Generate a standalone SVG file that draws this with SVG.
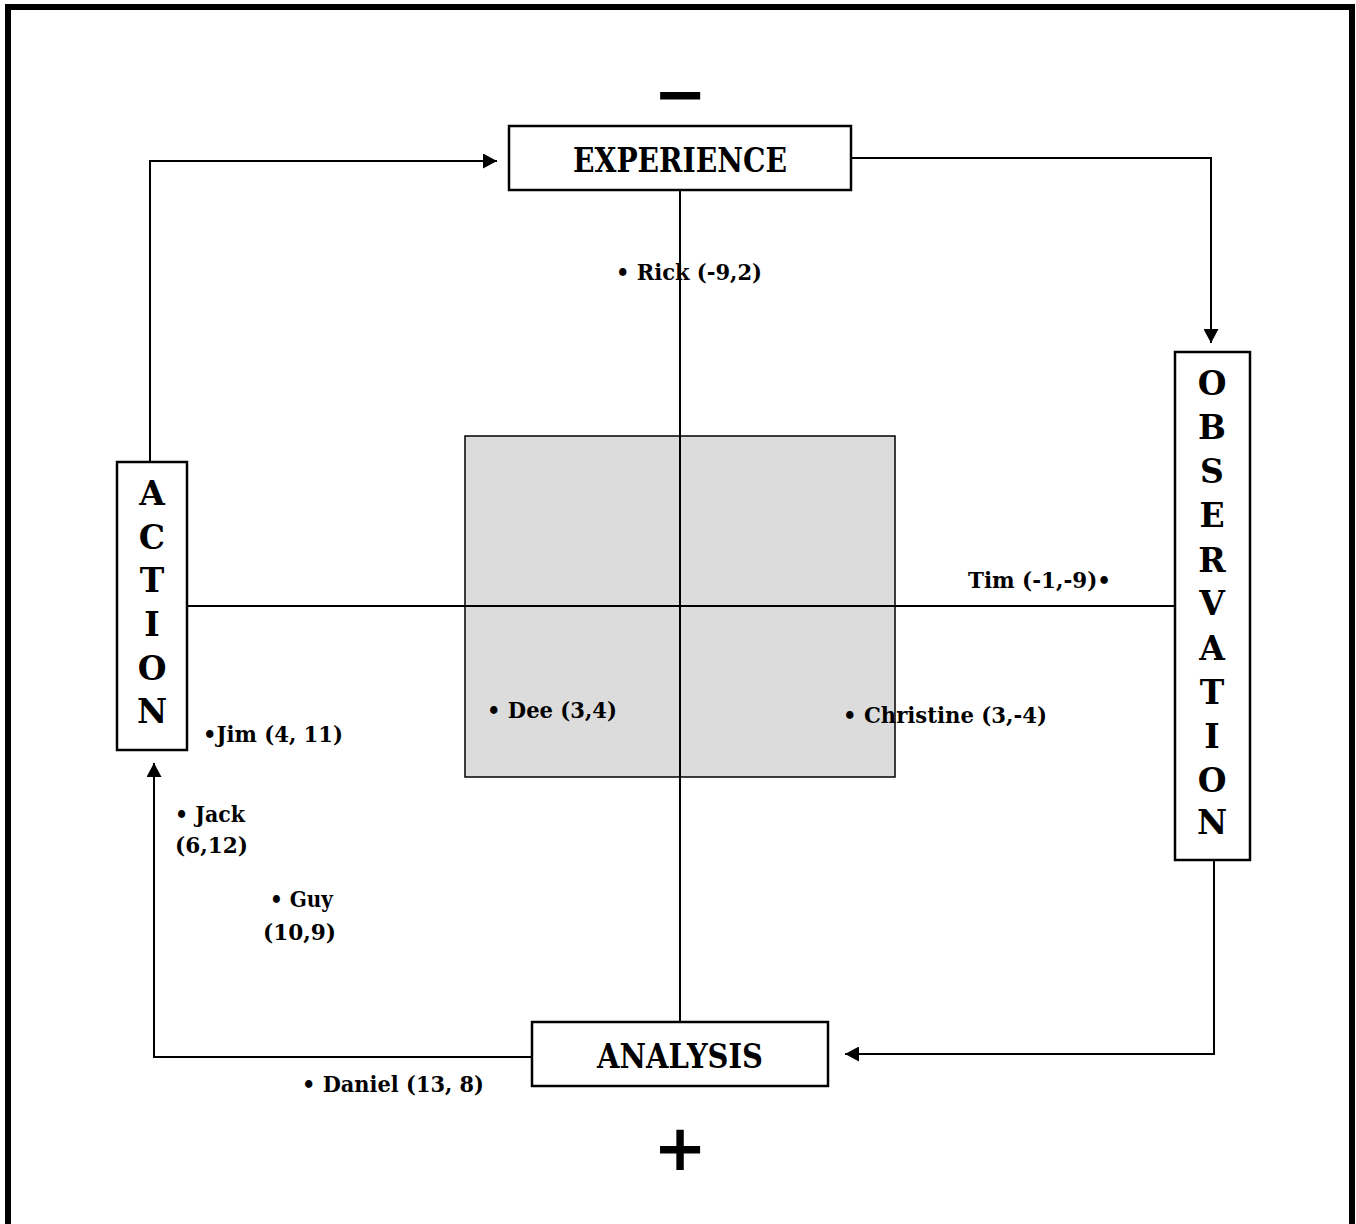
<svg xmlns="http://www.w3.org/2000/svg" width="1356" height="1224" viewBox="0 0 1356 1224">
<style>
.box{fill:#fff;stroke:#000;stroke-width:2.5}
.ln{fill:none;stroke:#000;stroke-width:2}
.big{font-family:"DejaVu Serif","Liberation Serif",serif;font-weight:bold;font-size:33px;text-anchor:middle}
.lt{font-family:"DejaVu Serif","Liberation Serif",serif;font-weight:bold;font-size:33px;text-anchor:middle}
.lbl{font-family:"DejaVu Serif","Liberation Serif",serif;font-weight:bold;font-size:22px}
.sign{font-family:"DejaVu Sans","Liberation Sans",sans-serif;font-weight:bold;font-size:64px;text-anchor:middle}
</style>
<defs>
<marker id="ah" markerWidth="15" markerHeight="15" refX="14" refY="7.5" orient="auto" markerUnits="userSpaceOnUse">
<path d="M0,0 L14,7.5 L0,15 Z" fill="#000"/>
</marker>
</defs>
<rect x="8" y="7" width="1344" height="1240" fill="none" stroke="#000" stroke-width="6"/>
<rect id="quadrant" x="465" y="436" width="430" height="341" fill="#dcdcdc" stroke="#000" stroke-width="1.5"/>
<g id="connectors">
<line class="ln" x1="680" y1="190" x2="680" y2="1022"/>
<line class="ln" x1="187" y1="606" x2="1175" y2="606"/>
<polyline class="ln" points="150,462 150,161 497,161" marker-end="url(#ah)"/>
<polyline class="ln" points="851,158 1211,158 1211,343" marker-end="url(#ah)"/>
<polyline class="ln" points="1214,860 1214,1054 845,1054" marker-end="url(#ah)"/>
<polyline class="ln" points="532,1057 154,1057 154,763" marker-end="url(#ah)"/>
</g>
<g id="experience">
<rect class="box" x="509" y="126" width="342" height="64"/>
<text class="big" x="680" y="172" textLength="214" lengthAdjust="spacingAndGlyphs">EXPERIENCE</text>
</g>
<g id="analysis">
<rect class="box" x="532" y="1022" width="296" height="64"/>
<text class="big" x="680" y="1068" textLength="166" lengthAdjust="spacingAndGlyphs">ANALYSIS</text>
</g>
<g id="action">
<rect class="box" x="117" y="462" width="70" height="288"/>
<text class="lt" x="152" y="505">A</text>
<text class="lt" x="152" y="549">C</text>
<text class="lt" x="152" y="592">T</text>
<text class="lt" x="152" y="636">I</text>
<text class="lt" x="152" y="680">O</text>
<text class="lt" x="152" y="723">N</text>
</g>
<g id="observation">
<rect class="box" x="1175" y="352" width="75" height="508"/>
<text class="lt" x="1212" y="395">O</text>
<text class="lt" x="1212" y="439">B</text>
<text class="lt" x="1212" y="483">S</text>
<text class="lt" x="1212" y="527">E</text>
<text class="lt" x="1212" y="572">R</text>
<text class="lt" x="1212" y="615">V</text>
<text class="lt" x="1212" y="660">A</text>
<text class="lt" x="1212" y="704">T</text>
<text class="lt" x="1212" y="748">I</text>
<text class="lt" x="1212" y="792">O</text>
<text class="lt" x="1212" y="834">N</text>
</g>
<text class="sign" x="680" y="116">−</text>
<text class="sign" x="680" y="1170">+</text>
<g id="points">
<text class="lbl" x="616" y="280" textLength="146" lengthAdjust="spacingAndGlyphs">• Rick (-9,2)</text>
<text class="lbl" x="968" y="588" textLength="143" lengthAdjust="spacingAndGlyphs">Tim (-1,-9)•</text>
<text class="lbl" x="203" y="742" textLength="140" lengthAdjust="spacingAndGlyphs">•Jim (4, 11)</text>
<text class="lbl" x="487" y="718" textLength="130" lengthAdjust="spacingAndGlyphs">• Dee (3,4)</text>
<text class="lbl" x="843" y="723" textLength="204" lengthAdjust="spacingAndGlyphs">• Christine (3,-4)</text>
<text class="lbl" x="175" y="822" textLength="70" lengthAdjust="spacingAndGlyphs">• Jack</text>
<text class="lbl" x="175" y="853" textLength="73" lengthAdjust="spacingAndGlyphs">(6,12)</text>
<text class="lbl" x="270" y="907" textLength="63" lengthAdjust="spacingAndGlyphs">• Guy</text>
<text class="lbl" x="263" y="940" textLength="73" lengthAdjust="spacingAndGlyphs">(10,9)</text>
<text class="lbl" x="302" y="1092" textLength="182" lengthAdjust="spacingAndGlyphs">• Daniel (13, 8)</text>
</g>
</svg>
